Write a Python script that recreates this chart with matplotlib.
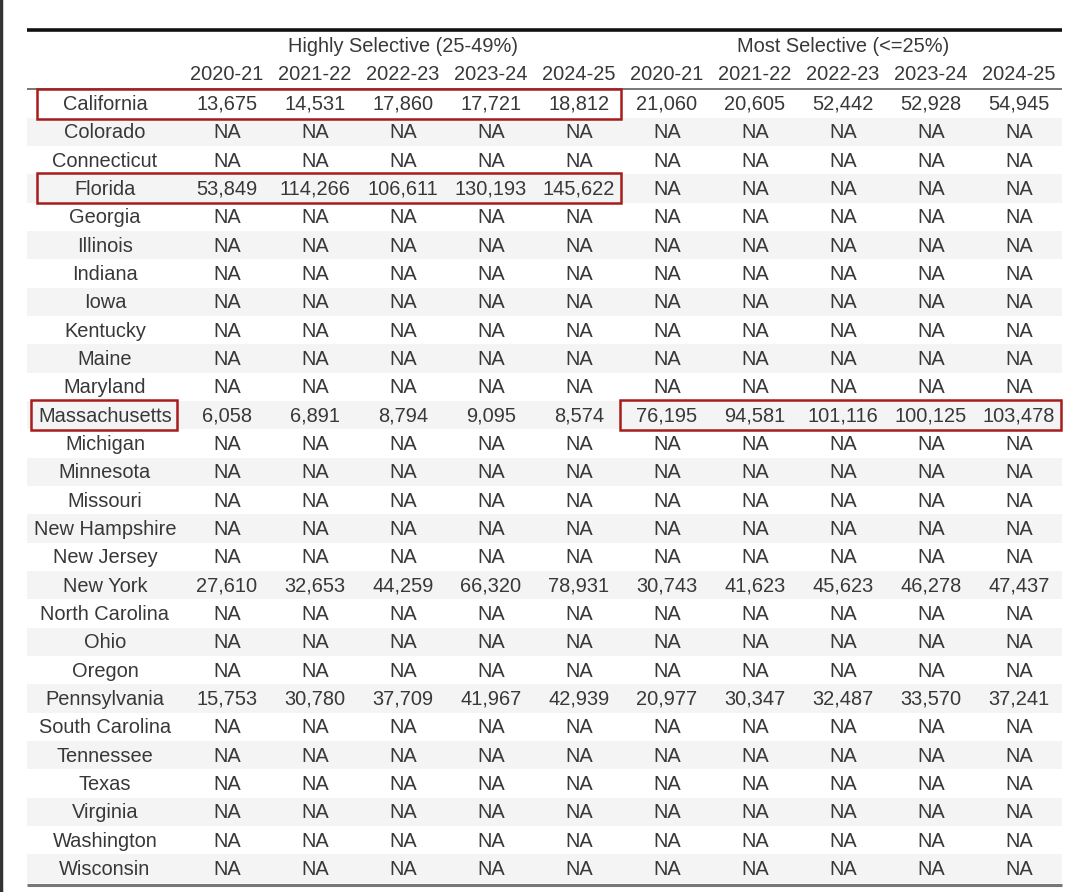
import matplotlib
matplotlib.use("Agg")
import matplotlib.pyplot as plt
from matplotlib.patches import Rectangle

states = ["California", "Colorado", "Connecticut", "Florida", "Georgia", "Illinois",
          "Indiana", "Iowa", "Kentucky", "Maine", "Maryland", "Massachusetts",
          "Michigan", "Minnesota", "Missouri", "New Hampshire", "New Jersey",
          "New York", "North Carolina", "Ohio", "Oregon", "Pennsylvania",
          "South Carolina", "Tennessee", "Texas", "Virginia", "Washington", "Wisconsin"]
years = ["2020-21", "2021-22", "2022-23", "2023-24", "2024-25"]
groups = ["Highly Selective (25-49%)", "Most Selective (<=25%)"]

highly = {
    "California": [13675, 14531, 17860, 17721, 18812],
    "Florida": [53849, 114266, 106611, 130193, 145622],
    "Massachusetts": [6058, 6891, 8794, 9095, 8574],
    "New York": [27610, 32653, 44259, 66320, 78931],
    "Pennsylvania": [15753, 30780, 37709, 41967, 42939],
}
most = {
    "California": [21060, 20605, 52442, 52928, 54945],
    "Massachusetts": [76195, 94581, 101116, 100125, 103478],
    "New York": [30743, 41623, 45623, 46278, 47437],
    "Pennsylvania": [20977, 30347, 32487, 33570, 37241],
}
# highlighted cell ranges: (state, first column, last column) ; column 0 = stub
highlights = [("California", 0, 5), ("Florida", 0, 5),
              ("Massachusetts", 0, 0), ("Massachusetts", 6, 10)]

# ---- layout (pixels) ----
W, H = 1080, 892
left, right = 27, 1062
stub_c = 105
col0_c, col_w = 227, 88
top_rule, group_y, year_y, head_rule = 30, 46, 75, 89
row0_y, row_h = 104.5, 28.33
txt = "#383838"
fs = 14.4
font = "Liberation Sans"

fig = plt.figure(figsize=(W / 100, H / 100), dpi=100)
ax = fig.add_axes([0, 0, 1, 1])
ax.set_xlim(0, W)
ax.set_ylim(H, 0)
ax.axis("off")

def colx(j):
    return col0_c + j * col_w

def rowy(i):
    return row0_y + i * row_h

# striping
for i, s in enumerate(states):
    if i % 2 == 1:
        ax.add_patch(Rectangle((left, rowy(i) - 1 - row_h / 2), right - left, row_h,
                               facecolor="#f4f4f4", edgecolor="none", zorder=0))

# rules
ax.plot([left, right], [top_rule, top_rule], color="#111111", lw=2.6, solid_capstyle="butt")
ax.plot([left, right], [head_rule, head_rule], color="#777777", lw=1.4, solid_capstyle="butt")
bottom = 885
ax.plot([left, right], [bottom, bottom], color="#777777", lw=2.2, solid_capstyle="butt")
# screenshot border at left
ax.plot([1, 1], [0, H], color="#333333", lw=2.5)

# group headers
for g, name in enumerate(groups):
    cx = (colx(g * 5) + colx(g * 5 + 4)) / 2
    ax.text(cx, group_y, name, ha="center", va="center", fontsize=fs, color=txt, family=font)
# year headers
for g in range(2):
    for k, y in enumerate(years):
        ax.text(colx(g * 5 + k), year_y, y, ha="center", va="center", fontsize=fs,
                color=txt, family=font)

# body
for i, s in enumerate(states):
    y = rowy(i)
    ax.text(stub_c, y, s, ha="center", va="center", fontsize=fs, color=txt, family=font)
    vals = highly.get(s, [None] * 5) + most.get(s, [None] * 5)
    for j, v in enumerate(vals):
        label = "NA" if v is None else f"{v:,}"
        ax.text(colx(j), y, label, ha="center", va="center", fontsize=fs, color=txt, family=font)

# red highlight boxes
for s, c0, c1 in highlights:
    i = states.index(s)
    y = rowy(i) - 1
    if c0 == 0:
        x0 = 37 if c1 > 0 else 31
    else:
        x0 = colx(c0 - 1) - col_w / 2 - 3
    if c1 == 0:
        x1 = 177
    else:
        x1 = min(colx(c1 - 1) + col_w / 2 - 2, right)
    ax.add_patch(Rectangle((x0, y - 15), x1 - x0, 30, facecolor="none",
                           edgecolor="#a81c1c", lw=1.8, zorder=5))

fig.savefig("out.png", dpi=100, facecolor="white")
